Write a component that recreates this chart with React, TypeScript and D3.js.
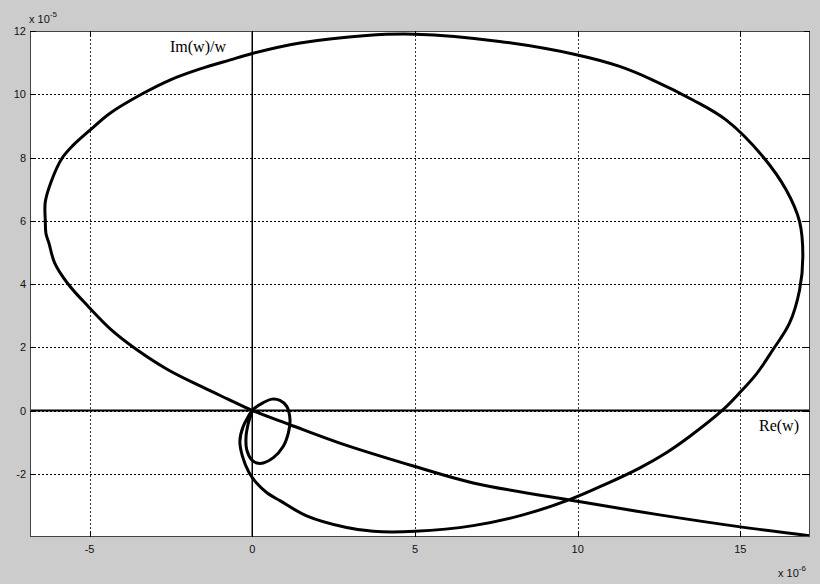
import React, { useEffect, useRef } from 'react'
import * as d3 from 'd3'

// curve points, Re in 1e-6, Im/w in 1e-5 in drawing order
const reValues = [
  17.12, 15.0, 12.52, 9.99, 6.79, 5.0, 2.69, 1.16, 0,
  -0.75, -1.57, -2.59, -3.61, -4.33, -5.04, -5.66, -6.07, -6.25, -6.34, -6.36, -6.36,
  -6.16, -5.85, -5.5, -4.98, -4.37, -3.35, -2.53, -1.6, -0.7, 0, 1.47, 3.51, 5.0, 7.6,
  9.96, 11.29, 12.31, 13.54, 14.57, 15.69, 16.41, 16.82, 16.92, 16.82, 16.51, 16.0, 15.49,
  14.97, 14.46, 13.44, 12.7, 11.9, 10.88, 9.75, 8.32, 6.79, 5.0, 3.72, 2.9, 1.67, 0.85,
  0.45, 0.14, -0.1, -0.3, -0.38, -0.28, 0,
  -0.12, -0.19, -0.17, -0.02, 0.14, 0.34, 0.64, 0.95, 1.11, 1.16, 1.06, 0.85, 0.6, 0.34, 0.08, 0,
]
const imValues = [
  -3.96, -3.68, -3.3, -2.87, -2.29, -1.77, -1.03, -0.45, 0,
  0.36, 0.76, 1.29, 1.97, 2.55, 3.29, 4.0, 4.66, 5.3, 5.6, 6.0, 6.6,
  7.29, 7.97, 8.39, 8.87, 9.4, 10.03, 10.45, 10.8, 11.08, 11.29, 11.62, 11.86, 11.9, 11.67,
  11.25, 10.88, 10.45, 9.82, 9.18, 8.03, 6.97, 5.97, 4.87, 3.81, 2.76, 1.92, 1.15,
  0.55, 0.02, -0.82, -1.35, -1.82, -2.32, -2.82, -3.3, -3.64, -3.82, -3.82, -3.7, -3.33, -2.85,
  -2.6, -2.3, -1.96, -1.45, -0.98, -0.51, 0,
  -0.4, -0.82, -1.24, -1.56, -1.66, -1.66, -1.5, -1.14, -0.71, -0.29, 0.13, 0.32, 0.36, 0.25, 0.08, 0,
]

const xTicks = [-5, 0, 5, 10, 15]
const yTicks = [-2, 0, 2, 4, 6, 8, 10, 12]

const W = 820
const H = 584
const margin = { left: 30, top: 31, right: 10, bottom: 47 }

function App() {
  const ref = useRef<SVGSVGElement>(null)

  useEffect(() => {
    const svg = d3.select(ref.current)
    svg.selectAll('*').remove()

    const width = W - margin.left - margin.right
    const height = H - margin.top - margin.bottom

    const x = d3.scaleLinear().domain([-6.83, 17.14]).range([0, width])
    const y = d3.scaleLinear().domain([-4.0, 12]).range([height, 0])

    svg.append('rect').attr('width', W).attr('height', H).attr('fill', '#cccccc')

    const g = svg.append('g').attr('transform', `translate(${margin.left}, ${margin.top})`)
    g.append('rect').attr('width', width).attr('height', height).attr('fill', '#fff')

    // grid
    g.selectAll('.gx')
      .data(xTicks)
      .enter()
      .append('line')
      .attr('x1', d => Math.round(x(d)) + 0.5)
      .attr('x2', d => Math.round(x(d)) + 0.5)
      .attr('y1', 0)
      .attr('y2', height)
      .attr('stroke', '#333')
      .attr('stroke-dasharray', '2,2')
    g.selectAll('.gy')
      .data(yTicks)
      .enter()
      .append('line')
      .attr('y1', d => Math.round(y(d)) + 0.5)
      .attr('y2', d => Math.round(y(d)) + 0.5)
      .attr('x1', 0)
      .attr('x2', width)
      .attr('stroke', '#000')
      .attr('stroke-dasharray', '2,2')

    // zero lines
    g.append('line')
      .attr('x1', x(0)).attr('x2', x(0))
      .attr('y1', 0).attr('y2', height)
      .attr('stroke', '#000').attr('stroke-width', 1.5)
    g.append('line')
      .attr('x1', 0).attr('x2', width)
      .attr('y1', y(0)).attr('y2', y(0))
      .attr('stroke', '#000').attr('stroke-width', 2)

    // the curve
    const pts: [number, number][] = reValues.map((r, i) => [r, imValues[i]])
    const line = d3.line<[number, number]>()
      .x(d => x(d[0]))
      .y(d => y(d[1]))
      .curve(d3.curveCatmullRom.alpha(0.5))
    g.append('path')
      .attr('d', line(pts))
      .attr('fill', 'none')
      .attr('stroke', '#000')
      .attr('stroke-width', 3)
      .attr('stroke-linejoin', 'round')

    // frame and ticks
    g.append('rect')
      .attr('x', 0.5).attr('y', 0.5)
      .attr('width', width - 1).attr('height', height - 1)
      .attr('fill', 'none').attr('stroke', '#444')
    xTicks.forEach(t => {
      const px = Math.round(x(t)) + 0.5
      g.append('line').attr('x1', px).attr('x2', px).attr('y1', height).attr('y2', height - 6).attr('stroke', '#000')
      g.append('line').attr('x1', px).attr('x2', px).attr('y1', 0).attr('y2', 6).attr('stroke', '#000')
    })
    yTicks.forEach(t => {
      const py = Math.round(y(t)) + 0.5
      g.append('line').attr('y1', py).attr('y2', py).attr('x1', 0).attr('x2', 6).attr('stroke', '#000')
      g.append('line').attr('y1', py).attr('y2', py).attr('x1', width).attr('x2', width - 6).attr('stroke', '#000')
    })

    const font = 'Liberation Sans, Arial, sans-serif'
    g.selectAll('.xl')
      .data(xTicks)
      .enter()
      .append('text')
      .attr('x', d => x(d))
      .attr('y', height + 16)
      .attr('text-anchor', 'middle')
      .attr('font-family', font)
      .attr('font-size', 11)
      .attr('fill', '#111')
      .text(d => String(d))
    g.selectAll('.yl')
      .data(yTicks)
      .enter()
      .append('text')
      .attr('x', -4)
      .attr('y', d => y(d) + 4)
      .attr('text-anchor', 'end')
      .attr('font-family', font)
      .attr('font-size', 11)
      .attr('fill', '#111')
      .text(d => String(d))

    // exponent labels
    const ex = svg.append('text').attr('x', 29).attr('y', 23).attr('font-family', font).attr('font-size', 11).attr('fill', '#111')
    ex.append('tspan').text('x 10')
    ex.append('tspan').attr('dy', -6).attr('font-size', 8).text('-5')
    const ex2 = svg.append('text').attr('x', 778).attr('y', 577).attr('font-family', font).attr('font-size', 11).attr('fill', '#111')
    ex2.append('tspan').text('x 10')
    ex2.append('tspan').attr('dy', -6).attr('font-size', 8).text('-6')

    // axis captions
    const serif = 'Liberation Serif, Times New Roman, serif'
    g.append('text')
      .attr('x', 170 - margin.left)
      .attr('y', 52 - margin.top)
      .attr('font-family', serif)
      .attr('font-size', 16)
      .attr('fill', '#000')
      .text('Im(w)/w')
    g.append('text')
      .attr('x', 759 - margin.left)
      .attr('y', 431 - margin.top)
      .attr('font-family', serif)
      .attr('font-size', 16)
      .attr('fill', '#000')
      .text('Re(w)')
  }, [])

  return (
    <svg
      ref={ref}
      width={W}
      height={H}
      style={{ position: 'absolute', left: 0, top: 0, display: 'block' }}
    />
  )
}

export default App
